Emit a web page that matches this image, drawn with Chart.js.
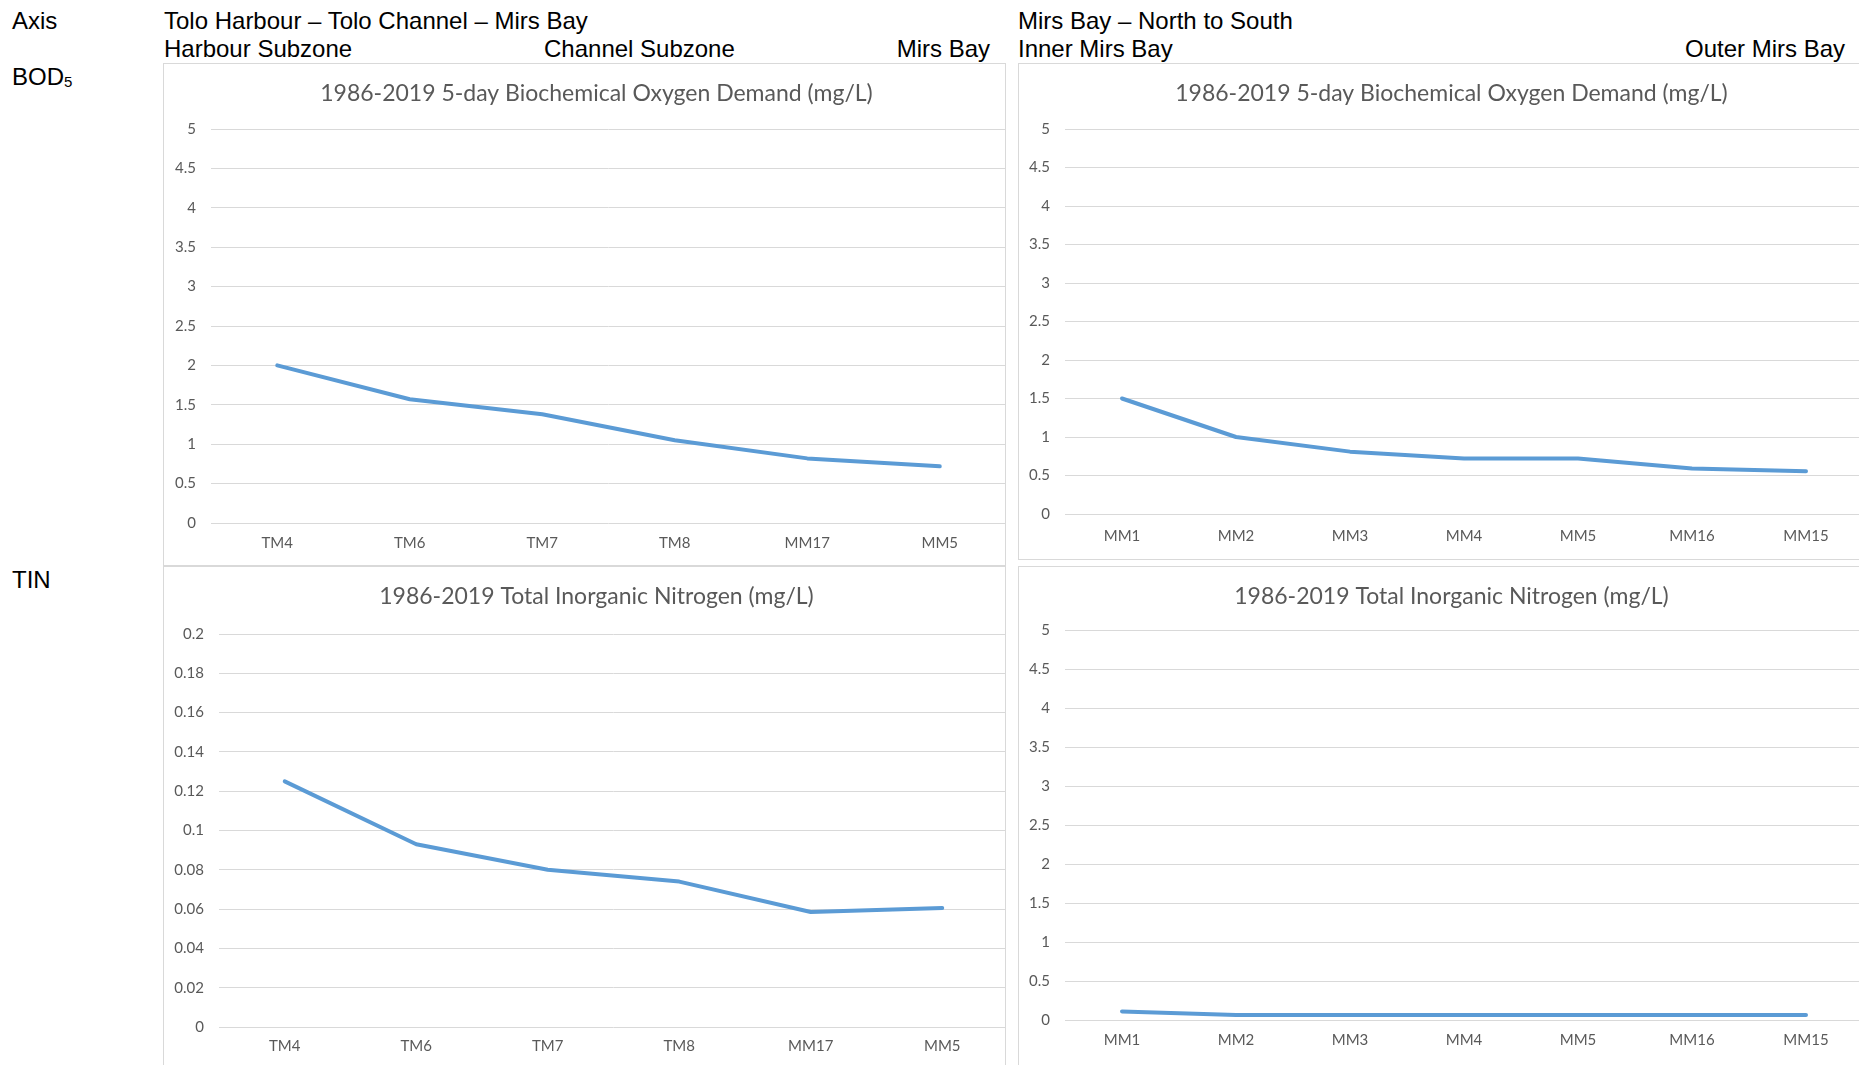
<!DOCTYPE html>
<html>
<head>
<meta charset="utf-8">
<title>Tolo Harbour / Mirs Bay BOD5 and TIN</title>
<script src="https://cdn.jsdelivr.net/npm/chart.js@4/dist/chart.umd.min.js"></script>
<style>
    html, body { margin: 0; padding: 0; background: #fff; width: 1859px; height: 1065px; overflow: hidden; }
    .lbl { position: absolute; font-family: "Liberation Sans", Arial, sans-serif; font-size: 24px; line-height: 24px; color: #000; white-space: nowrap; }
    .lbl sub { font-size: 15px; vertical-align: -2px; line-height: 0; }
    .panel { position: absolute; box-sizing: border-box; border: 1px solid #d9d9d9; overflow: hidden; background: #fff; }
    .panel .inner { position: absolute; left: 0; top: 0; }
</style>
</head>
<body>

<div class="lbl" style="left:12px; top:9px;">Axis</div>
<div class="lbl" style="left:164px; top:9px;">Tolo Harbour – Tolo Channel – Mirs Bay</div>
<div class="lbl" style="left:164px; top:37px;">Harbour Subzone</div>
<div class="lbl" style="left:544px; top:37px;">Channel Subzone</div>
<div class="lbl" style="left:894px; top:37px; width:96px; text-align:right;">Mirs Bay</div>
<div class="lbl" style="left:1018px; top:9px;">Mirs Bay – North to South</div>
<div class="lbl" style="left:1018px; top:37px;">Inner Mirs Bay</div>
<div class="lbl" style="left:1645px; top:37px; width:200px; text-align:right;">Outer Mirs Bay</div>
<div class="lbl" style="left:12px; top:65px;">BOD<sub>5</sub></div>
<div class="lbl" style="left:12px; top:568px;">TIN</div>

<div class="panel" style="left:163px; top:63px; width:843px; height:503px;">
    <div class="inner" style="width:865px; height:501px;"><canvas id="bodTolo"></canvas></div>
</div>
<div class="panel" style="left:1018px; top:63px; width:880px; height:497px;">
    <div class="inner" style="width:865px; height:495px;"><canvas id="bodMirs"></canvas></div>
</div>
<div class="panel" style="left:163px; top:566px; width:843px; height:510px;">
    <div class="inner" style="width:865px; height:503px;"><canvas id="tinTolo"></canvas></div>
</div>
<div class="panel" style="left:1018px; top:566px; width:880px; height:510px;">
    <div class="inner" style="width:865px; height:503px;"><canvas id="tinMirs"></canvas></div>
</div>

<script>
(function(){
    "use strict";

    // Stations along each transect
    const toloStations = ['TM4', 'TM6', 'TM7', 'TM8', 'MM17', 'MM5'];
    const mirsStations = ['MM1', 'MM2', 'MM3', 'MM4', 'MM5', 'MM16', 'MM15'];

    // 1986-2019 means
    const bodTolo = [2.0, 1.57, 1.38, 1.05, 0.82, 0.72];
    const bodMirs = [1.5, 1.0, 0.81, 0.72, 0.72, 0.59, 0.555];
    const tinTolo = [0.125, 0.093, 0.080, 0.074, 0.0585, 0.0605];
    const tinMirs = [0.11, 0.065, 0.065, 0.065, 0.065, 0.065, 0.065];

    const bodTitle = '1986-2019 5-day Biochemical Oxygen Demand (mg/L)';
    const tinTitle = '1986-2019 Total Inorganic Nitrogen (mg/L)';

    const lineColor = '#5B9BD5';
    const textColor = '#595959';
    const gridColor = '#d9d9d9';
    const fontFamily = 'Lato, "Open Sans", sans-serif';

    /**
     * Make one of the four panel charts.
     * @param {string} id - canvas id
     * @param {object} o - labels, data, title, axis range and the few layout numbers
     */
    function makeChart(id, o) {
        const ctx = document.getElementById(id).getContext('2d');
        return new Chart(ctx, {
            type: 'line',
            data: {
                labels: o.labels,
                datasets: [{
                    data: o.data,
                    borderColor: lineColor,
                    backgroundColor: lineColor,
                    borderWidth: 4,
                    borderCapStyle: 'round',
                    borderJoinStyle: 'round',
                    pointRadius: 0,
                    tension: 0,
                    fill: false
                }]
            },
            options: {
                responsive: true,
                maintainAspectRatio: false,
                animation: false,
                layout: { padding: 0 },
                scales: {
                    x: {
                        offset: true,
                        grid: { display: false, drawTicks: false },
                        border: { display: false },
                        ticks: { color: textColor, padding: o.xPad, font: { family: fontFamily, size: 15 } },
                        afterFit: s => { s.height = o.xHeight; }
                    },
                    y: {
                        min: o.min,
                        max: o.max,
                        ticks: {
                            stepSize: o.step,
                            color: textColor,
                            padding: 15,
                            font: { family: fontFamily, size: 15 },
                            callback: v => Number(v.toFixed(3)).toString()
                        },
                        grid: { color: gridColor, lineWidth: 1, drawTicks: false },
                        border: { display: false },
                        afterFit: s => { s.width = o.yWidth; }
                    },
                    // empty space on the right so the title stays centred on the whole chart
                    pad: {
                        position: 'right',
                        display: true,
                        grid: { display: false, drawTicks: false },
                        border: { display: false },
                        ticks: { display: false },
                        afterFit: s => { s.width = o.rightPad; }
                    }
                },
                plugins: {
                    legend: { display: false },
                    tooltip: { enabled: false },
                    title: {
                        display: true,
                        text: o.title,
                        color: textColor,
                        font: { family: fontFamily, size: 23, weight: 'normal' },
                        padding: { top: o.titleTop, bottom: o.titleBottom }
                    }
                }
            }
        });
    }

    function init() {
        makeChart('bodTolo', {
            labels: toloStations, data: bodTolo, title: bodTitle,
            min: 0, max: 5, step: 0.5,
            yWidth: 47, rightPad: 23, xHeight: 42, xPad: 11, titleTop: 15.5, titleBottom: 21.9
        });
        makeChart('bodMirs', {
            labels: mirsStations, data: bodMirs, title: bodTitle,
            min: 0, max: 5, step: 0.5,
            yWidth: 46, rightPad: 21, xHeight: 45, xPad: 13, titleTop: 15.5, titleBottom: 21.9
        });
        makeChart('tinTolo', {
            labels: toloStations, data: tinTolo, title: tinTitle,
            min: 0, max: 0.2, step: 0.02,
            yWidth: 55, rightPad: 21, xHeight: 43, xPad: 10, titleTop: 15.5, titleBottom: 23.9
        });
        makeChart('tinMirs', {
            labels: mirsStations, data: tinMirs, title: tinTitle,
            min: 0, max: 5, step: 0.5,
            yWidth: 46, rightPad: 21, xHeight: 50, xPad: 11, titleTop: 15.5, titleBottom: 19.9
        });
    }

    init();

})();
</script>
</body>
</html>
